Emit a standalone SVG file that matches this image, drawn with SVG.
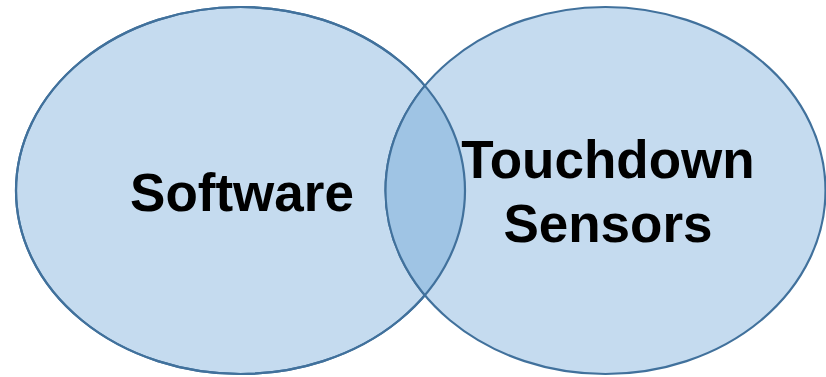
<svg xmlns="http://www.w3.org/2000/svg" width="826" height="377" viewBox="0 0 826 377">
  <defs>
    <style>
      .set { fill: #c5dbef; stroke: #41719c; stroke-width: 2.2; }
      .lens { fill: #9fc4e4; stroke: #41719c; stroke-width: 2.2; }
      .lbl { font-family: "Liberation Sans", Arial, sans-serif; font-weight: bold; font-size: 53px; fill: #000; text-anchor: middle; }
    </style>
    <clipPath id="clipLeft">
      <ellipse cx="240.5" cy="190.5" rx="224.5" ry="183.5"/>
    </clipPath>
  </defs>
  <rect width="826" height="377" fill="#ffffff"/>
  <g id="software">
    <ellipse class="set" cx="240.5" cy="190.5" rx="224.5" ry="183.5"/>
  </g>
  <g id="touchdown-sensors">
    <ellipse class="set" cx="605.5" cy="190.5" rx="220" ry="183.5"/>
  </g>
  <g id="overlap">
    <ellipse class="lens" cx="605.5" cy="190.5" rx="220" ry="183.5" clip-path="url(#clipLeft)"/>
    <ellipse cx="240.5" cy="190.5" rx="224.5" ry="183.5" fill="none" stroke="#41719c" stroke-width="2.2"/>
  </g>
  <g id="labels">
    <text class="lbl" x="242" y="211">Software</text>
    <text class="lbl" x="608" y="178">Touchdown</text>
    <text class="lbl" x="608" y="242">Sensors</text>
  </g>
</svg>
